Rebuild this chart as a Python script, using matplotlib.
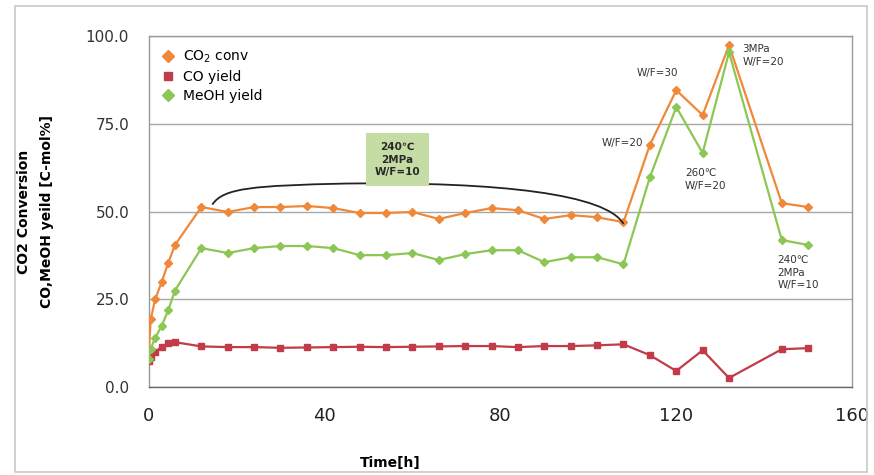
import matplotlib.pyplot as plt
from matplotlib.patches import Rectangle, PathPatch
from matplotlib.path import Path

# time points [h]
time_h = [0, 0.5, 1.5, 3, 4.5, 6,
          12, 18, 24, 30, 36, 42, 48, 54, 60, 66, 72, 78, 84, 90, 96, 102, 108,
          114, 120, 126, 132, 144, 150]

co2_conv = [9, 19.5, 25, 30, 35.5, 40.5,
            51.3, 49.9, 51.3, 51.3, 51.6, 51.0, 49.6, 49.6, 49.9, 47.9, 49.6,
            51.0, 50.4, 47.9, 49.0, 48.4, 47.0,
            69.0, 84.6, 77.5, 97.4, 52.4, 51.3]

co_yield = [7.5, 8.5, 10, 11.5, 12.5, 12.8,
            11.6, 11.4, 11.4, 11.2, 11.3, 11.4, 11.5, 11.4, 11.5, 11.6, 11.7,
            11.7, 11.4, 11.7, 11.7, 11.9, 12.2,
            9.1, 4.6, 10.5, 2.6, 10.8, 11.1]

meoh_yield = [8, 11, 14, 17.5, 22, 27.5,
              39.6, 38.2, 39.6, 40.2, 40.2, 39.6, 37.6, 37.6, 38.2, 36.2, 37.9,
              39.0, 39.0, 35.6, 37.0, 37.0, 35.0,
              59.8, 79.8, 66.7, 95.4, 41.9, 40.5]

C_ORANGE = "#f0883a"
C_RED = "#c23b48"
C_GREEN = "#8cc654"
GRID = "#a8a8a8"

fig = plt.figure(figsize=(8.74, 4.75), dpi=100)
ax = fig.add_axes([0.170, 0.185, 0.805, 0.739])

# outer frame of the picture
fig.patches.append(Rectangle((15 / 874, 3 / 475), 852 / 874, 466 / 475,
                             transform=fig.transFigure, fill=False,
                             edgecolor="#c8c8c8", linewidth=1.2))

ax.plot(time_h, co2_conv, color=C_ORANGE, marker="D", markersize=4,
        linewidth=1.6, label="CO$_2$ conv", zorder=3)
ax.plot(time_h, co_yield, color=C_RED, marker="s", markersize=4,
        linewidth=1.6, label="CO yield", zorder=3)
ax.plot(time_h, meoh_yield, color=C_GREEN, marker="D", markersize=4,
        linewidth=1.6, label="MeOH yield", zorder=3)

ax.set_xlim(0, 160)
ax.set_ylim(0, 100)
ax.set_xticks([0, 40, 80, 120, 160])
ax.set_yticks([0, 25, 50, 75, 100])
ax.set_yticklabels(["0.0", "25.0", "50.0", "75.0", "100.0"])
ax.tick_params(axis="y", length=0, pad=14, labelsize=11, labelcolor="#333333")
ax.tick_params(axis="x", length=0, pad=14, labelsize=13, labelcolor="#222222")
ax.grid(True, axis="y", color=GRID, linewidth=1.0)
ax.set_axisbelow(True)
for s in ax.spines.values():
    s.set_color("#999999")
    s.set_linewidth(1.0)
ax.spines["bottom"].set_color("#666666")

ax.set_xlabel("Time[h]", fontsize=10, fontweight="bold")
ax.xaxis.set_label_coords(0.343, -0.195)
ax.set_ylabel("CO2 Conversion\nCO,MeOH yeild [C-mol%]", fontsize=10,
              fontweight="bold", linespacing=1.75)
ax.yaxis.set_label_coords(-0.135, 0.5)

leg = ax.legend(loc="upper left", frameon=False, fontsize=10,
                handlelength=1.0, handletextpad=0.6, labelspacing=0.35,
                borderaxespad=0.5)
for h in leg.legend_handles:
    h.set_linewidth(0)
    h.set_markersize(6)

# bracket over the steady-state period
verts = [(14.5, 52), (17, 56.8), (24, 57.4), (45, 58),
         (80, 58.5), (104, 55), (108, 46.5)]
codes = [Path.MOVETO, Path.CURVE4, Path.CURVE4, Path.CURVE4,
         Path.CURVE4, Path.CURVE4, Path.CURVE4]
ax.add_patch(PathPatch(Path(verts, codes), fill=False, edgecolor="#222222",
                       linewidth=1.3, zorder=4))

ax.text(56.6, 64.8, "240\u2103\n2MPa\nW/F=10", fontsize=7.5, ha="center",
        va="center", color="#2a2a2a", fontweight="bold", linespacing=1.3,
        zorder=5,
        bbox=dict(boxstyle="square,pad=0.85", facecolor="#c5dca4",
                  edgecolor="none"))

ann = dict(fontsize=7.5, color="#333333", linespacing=1.3)
ax.text(112.5, 69.5, "W/F=20", ha="right", va="center", **ann)
ax.text(115.8, 89.4, "W/F=30", ha="center", va="center", **ann)
ax.text(135, 94.5, "3MPa\nW/F=20", ha="left", va="center", **ann)
ax.text(122, 59.2, "260\u2103\nW/F=20", ha="left", va="center", **ann)
ax.text(143, 32.6, "240\u2103\n2MPa\nW/F=10", ha="left", va="center", **ann)

fig.savefig("out.png", dpi=100)
